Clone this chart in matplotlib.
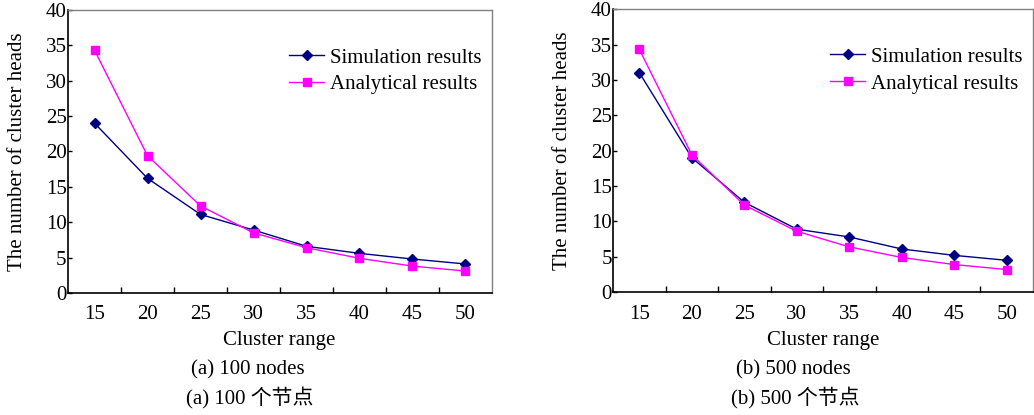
import matplotlib
matplotlib.use("Agg")
import matplotlib.pyplot as plt
import numpy as np

plt.rcParams["font.family"] = ["Liberation Serif", "Noto Sans CJK SC"]
plt.rcParams["font.size"] = 15

# cluster range categories
ranges = [15, 20, 25, 30, 35, 40, 45, 50]

# 100 nodes
sim_100 = [24.0, 16.2, 11.1, 8.9, 6.6, 5.6, 4.8, 4.1]
ana_100 = [34.3, 19.4, 12.3, 8.5, 6.4, 4.9, 3.8, 3.1]

# 500 nodes
sim_500 = [31.0, 19.0, 12.7, 8.9, 7.8, 6.1, 5.2, 4.5]
ana_500 = [34.3, 19.4, 12.3, 8.6, 6.4, 4.9, 3.9, 3.2]

sim_color = "#000080"
ana_color = "#FF00FF"

fig = plt.figure(figsize=(10.34, 4.15), dpi=100)
ax1 = fig.add_axes([0.0658, 0.294, 0.410, 0.682])
ax2 = fig.add_axes([0.593, 0.296, 0.406, 0.682])


def draw(ax, sim, ana):
    x = np.arange(len(ranges))
    ax.plot(x, sim, color=sim_color, lw=1.0, marker="D", ms=5.5,
            label="Simulation results")
    ax.plot(x, ana, color=ana_color, lw=1.0, marker="s", ms=6,
            label="Analytical results")
    ax.set_xlim(-0.5, len(ranges) - 0.5)
    ax.set_ylim(0, 40)
    ax.set_yticks(range(0, 41, 5))
    ax.set_xticks(x)
    ax.set_xticklabels([str(r) for r in ranges])
    ax.set_xticks(x[:-1] + 0.5, minor=True)
    ax.tick_params(axis="x", which="major", length=0, pad=9)
    ax.tick_params(axis="x", which="minor", direction="in", length=4, width=1)
    ax.tick_params(axis="y", direction="in", length=3, width=1, pad=1)
    for s in ["top", "right"]:
        ax.spines[s].set_color("#808080")
        ax.spines[s].set_linewidth(1.0)
    for s in ["left", "bottom"]:
        ax.spines[s].set_color("black")
        ax.spines[s].set_linewidth(1.2)
    ax.set_ylabel("The number of cluster heads")
    ax.yaxis.set_label_coords(-41 / (ax.get_position().width * 1034), 0.5)
    ax.legend(loc="upper right", bbox_to_anchor=(1.005, 0.91), frameon=False,
              handlelength=1.65, handletextpad=0.3, labelspacing=0.35,
              borderaxespad=0.2)


draw(ax1, sim_100, ana_100)
draw(ax2, sim_500, ana_500)

# captions below each panel
fig.text(279 / 1034, 1 - 340 / 415, "Cluster range", ha="center", va="center")
fig.text(248 / 1034, 1 - 370 / 415, "(a) 100 nodes", ha="center", va="center")
fig.text(250 / 1034, 1 - 398 / 415, "(a) 100 个节点", ha="center", va="center")
fig.text(823 / 1034, 1 - 340 / 415, "Cluster range", ha="center", va="center")
fig.text(793 / 1034, 1 - 370 / 415, "(b) 500 nodes", ha="center", va="center")
fig.text(795 / 1034, 1 - 398 / 415, "(b) 500 个节点", ha="center", va="center")

fig.savefig("out.png", dpi=100)
